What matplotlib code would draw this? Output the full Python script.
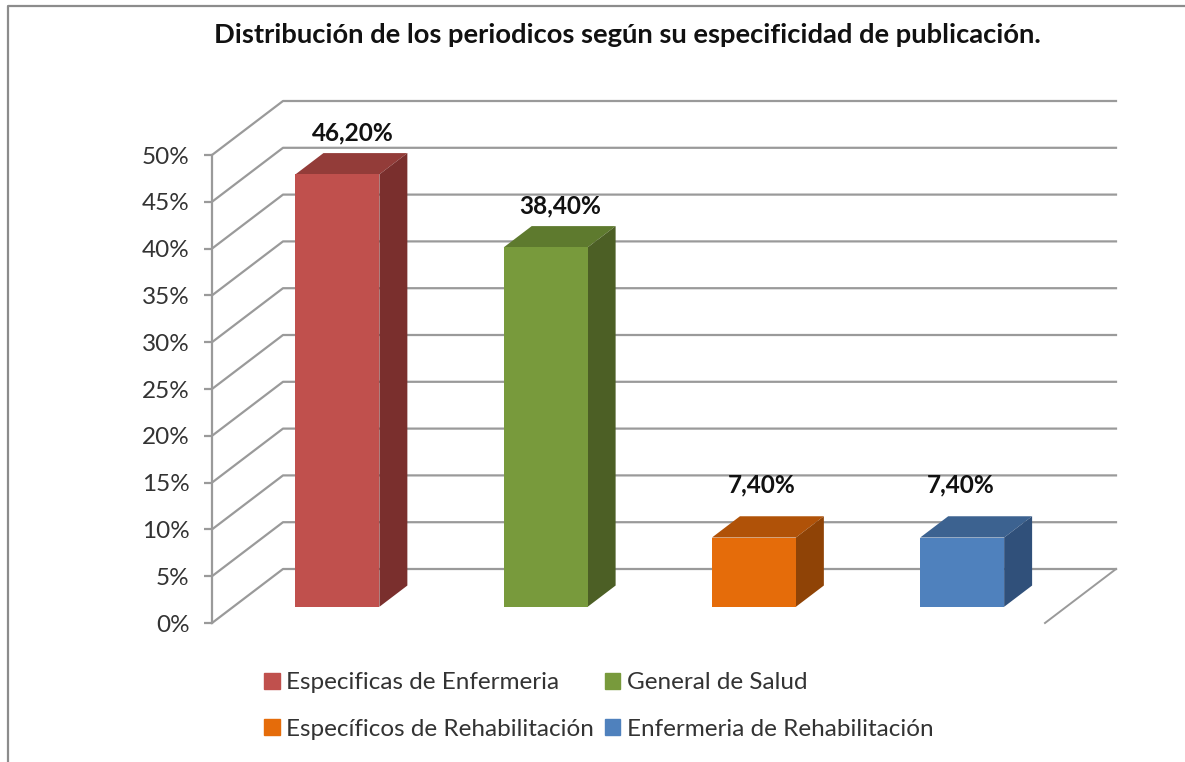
import matplotlib
matplotlib.use('Agg')
import matplotlib.pyplot as plt
from matplotlib.patches import Polygon, Rectangle
from matplotlib.lines import Line2D

plt.rcParams['font.family'] = ['Lato', 'DejaVu Sans']

categories = ['Especificas de Enfermeria', 'General de Salud',
              'Específicos de Rehabilitación', 'Enfermeria de Rehabilitación']
values = [46.2, 38.4, 7.4, 7.4]
value_labels = ['46,20%', '38,40%', '7,40%', '7,40%']
y_ticks = list(range(0, 55, 5))
title = 'Distribución de los periodicos según su especificidad de publicación.'

front_colors = ['#C0504D', '#789A3C', '#E56C0A', '#4F81BD']
top_colors = ['#933C39', '#5E7A2E', '#B05208', '#3C6290']
side_colors = ['#7A2F2D', '#4C5F25', '#8F4306', '#30507A']
grid_color = '#9A9A9A'

W, H = 1185, 762
fig = plt.figure(figsize=(W/100, H/100), dpi=100)
ax = fig.add_axes([212/W, (H-623)/H, (1045-212)/W, (623-155)/H])
ax.set_xlim(0, 4)
ax.set_ylim(0, 50)

# oblique depth: how far the back wall is moved, in data units
DX = 71/208.25
DY = 54/9.36


def project(x, v, depth):
    return x + depth*DX, v + depth*DY


# walls
for v in y_ticks:
    x0, y0 = project(0, v, 1)
    x1, y1 = project(4, v, 1)
    ax.plot([0, x0, x1], [v, y0, y1], color=grid_color, lw=1.6, clip_on=False, zorder=1)
x1, y1 = project(4, 0, 1)
ax.plot([4, x1], [0, y1], color=grid_color, lw=1.4, clip_on=False, zorder=1)

# bars
bar_w = 0.403
d0, d1 = 0.30, 0.694
for i, v in enumerate(values):
    xl = i + 0.5 - bar_w/2
    xr = xl + bar_w
    fl = project(xl, 0, d0)
    fr = project(xr, 0, d0)
    tl = project(xl, v, d0)
    tr = project(xr, v, d0)
    bl = project(xl, v, d1)
    br = project(xr, v, d1)
    bb = project(xr, 0, d1)
    ax.add_patch(Polygon([tl, tr, br, bl], color=top_colors[i], lw=0, clip_on=False, zorder=3))
    ax.add_patch(Polygon([fr, tr, br, bb], color=side_colors[i], lw=0, clip_on=False, zorder=3))
    ax.add_patch(Polygon([fl, fr, tr, tl], color=front_colors[i], lw=0, clip_on=False, zorder=4))

label_dx = [15, 15, 8, -1]
label_dy = [41, 41, 53, 53]
for i, v in enumerate(values):
    x, y = project(i + 0.5, v, d0)
    ax.annotate(value_labels[i], (x, y), xytext=(label_dx[i]*0.72, label_dy[i]*0.72),
                textcoords='offset points', ha='center', va='center',
                fontsize=17.6, fontweight='bold', color='#111111', zorder=5)

for s in ['top', 'right', 'bottom']:
    ax.spines[s].set_visible(False)
ax.spines['left'].set_color(grid_color)
ax.spines['left'].set_linewidth(1.6)
ax.set_xticks([])
ax.set_yticks(y_ticks)
ax.set_yticklabels(['%d%%' % t for t in y_ticks], fontsize=17.5, color='#333333')
ax.tick_params(axis='y', length=6, width=1.6, color=grid_color, pad=10)
ax.patch.set_alpha(0)

fig.text(627/W, 1 - 35/H, title, ha='center', va='center', fontsize=19.7,
         fontweight='bold', color='#111111')

# chart area border
fig.add_artist(Line2D([8/W, 8/W, 1], [0, 1 - 6/H, 1 - 6/H], color='#8C8C8C', lw=1.6))

handles = [Rectangle((0, 0), 1, 1, color=c) for c in front_colors]
fig.legend([handles[0], handles[2], handles[1], handles[3]],
           [categories[0], categories[2], categories[1], categories[3]],
           ncol=2, loc='center left', bbox_to_anchor=(264/W, 1 - 706/H), frameon=False,
           fontsize=17.5, labelcolor='#333333', handlelength=0.65, handleheight=0.65,
           handletextpad=0.25, columnspacing=0.45, labelspacing=1.04, borderpad=0, borderaxespad=0)

fig.savefig('out.png', dpi=100, facecolor='white')
